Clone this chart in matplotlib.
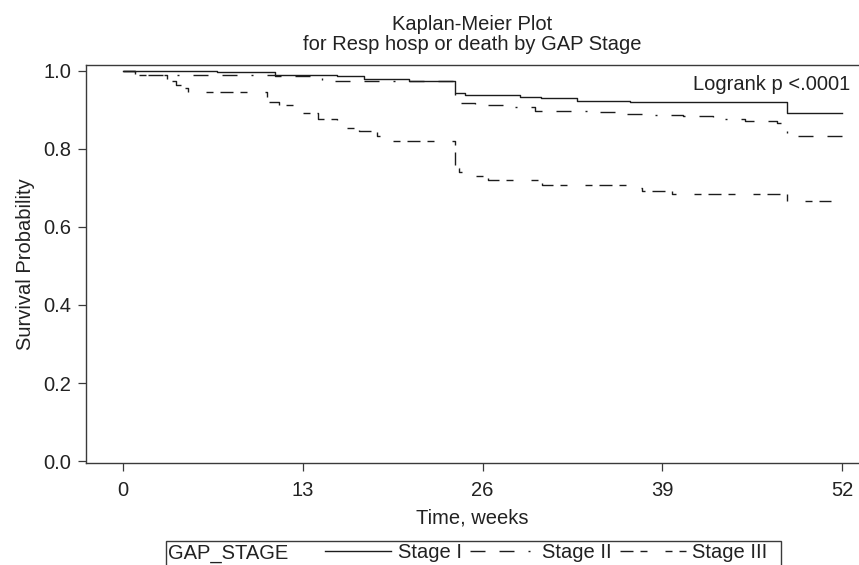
import matplotlib
matplotlib.use("Agg")
import matplotlib.pyplot as plt
from matplotlib.patches import Rectangle

plt.rcParams['font.family'] = ['Liberation Sans', 'DejaVu Sans']
plt.rcParams['lines.scale_dashes'] = False

# ---- data ----
stage1_t = [0, 6.8, 11.0, 15.5, 17.4, 20.7, 24.0, 24.7, 28.7, 30.2, 32.8, 36.7, 48.0, 52.0]
stage1_s = [1.0, 0.996, 0.990, 0.987, 0.979, 0.973, 0.943, 0.938, 0.932, 0.930, 0.924, 0.919, 0.891, 0.891]

stage2_t = [0, 0.9, 11.0, 14.4, 20.5, 24.0, 25.45, 27.5, 29.8, 34.1, 36.4, 38.3, 40.5, 42.7, 45.0, 47.3, 47.7, 48.0, 52.0]
stage2_s = [1.0, 0.990, 0.986, 0.975, 0.973, 0.917, 0.913, 0.9085, 0.898, 0.894, 0.890, 0.887, 0.885, 0.876, 0.872, 0.867, 0.859, 0.832, 0.832]

stage3_t = [0, 0.9, 3.2, 3.8, 4.3, 4.7, 10.4, 11.3, 12.3, 14.1, 15.5, 16.1, 17.1, 18.4, 18.8, 24.0, 24.3, 24.9,
            26.4, 30.3, 36.5, 37.5, 39.7, 48.0, 51.2]
stage3_s = [1.0, 0.990, 0.975, 0.964, 0.956, 0.947, 0.921, 0.913, 0.891, 0.876, 0.868, 0.853, 0.846, 0.832, 0.821,
            0.751, 0.742, 0.731, 0.719, 0.708, 0.699, 0.693, 0.685, 0.667, 0.667]

series_labels = ['Stage I', 'Stage II', 'Stage III']
x_ticks = [0, 13, 26, 39, 52]
y_ticks = [0.0, 0.2, 0.4, 0.6, 0.8, 1.0]

# ---- figure ----
W, H = 859, 565
fig = plt.figure(figsize=(W / 100, H / 100), dpi=100)
ax = fig.add_axes([86 / W, 1 - 463 / H, (W - 86) / W, (463 - 65) / H])

ink = '#1c1c1c'
spine_c = '#3a3a3a'
txt_c = '#222222'
fs = 14.5
px = 0.72  # points per pixel

l1, = ax.step(stage1_t, stage1_s, where='post', color=ink, lw=1.0, label=series_labels[0])
l2, = ax.step(stage2_t, stage2_s, where='post', color=ink, lw=1.0, label=series_labels[1])
l2.set_dashes([15 * px, 14 * px, 15 * px, 14 * px, 2 * px, 14 * px])
l3, = ax.step(stage3_t, stage3_s, where='post', color=ink, lw=1.0, label=series_labels[2])
l3.set_dashes([13 * px, 7 * px, 7 * px, 18 * px, 7 * px, 7 * px])

ax.set_xlim(-2.68, 53.23)
ax.set_ylim(-0.005, 1.015)
ax.set_xticks(x_ticks)
ax.set_xticklabels([str(t) for t in x_ticks])
ax.set_yticks(y_ticks)
ax.set_yticklabels([f"{v:.1f}" for v in y_ticks])

for side in ['left', 'bottom', 'top']:
    ax.spines[side].set_color(spine_c)
    ax.spines[side].set_linewidth(1.0)
ax.spines['right'].set_visible(False)

ax.tick_params(axis='both', direction='out', length=5.8, width=0.9, color=spine_c,
               labelsize=fs, labelcolor=txt_c)
ax.tick_params(axis='x', pad=7.5)
ax.tick_params(axis='y', pad=5)

ax.set_xlabel('Time, weeks', fontsize=fs, color=txt_c, labelpad=6)
ax.set_ylabel('Survival Probability', fontsize=fs, color=txt_c, labelpad=6)

ax.set_title('Kaplan-Meier Plot\nfor Resp hosp or death by GAP Stage', fontsize=fs,
             color=txt_c, pad=10.5, linespacing=1.1)

fig.text(850 / W, 1 - 90 / H, 'Logrank p <.0001', fontsize=fs, color=txt_c,
         ha='right', va='baseline')

# ---- legend ----
handles, labels = ax.get_legend_handles_labels()
leg = fig.legend(handles, labels, loc='center left', bbox_to_anchor=(325 / W, 1 - 553 / H),
                 frameon=False, ncol=3, handlelength=3.3, handletextpad=0.3, columnspacing=0.4,
                 borderpad=0, borderaxespad=0, fontsize=fs)
for t in leg.get_texts():
    t.set_color(txt_c)
fig.text(168 / W, 1 - 559 / H, 'GAP_STAGE', fontsize=fs, color=txt_c, va='baseline', ha='left')
rect = Rectangle((166 / W, -0.05), (781 - 166) / W, (1 - 541 / H) + 0.05, transform=fig.transFigure,
                 fill=False, lw=1.0, ec=spine_c, clip_on=False)
fig.add_artist(rect)

fig.savefig('out.png', dpi=100)
